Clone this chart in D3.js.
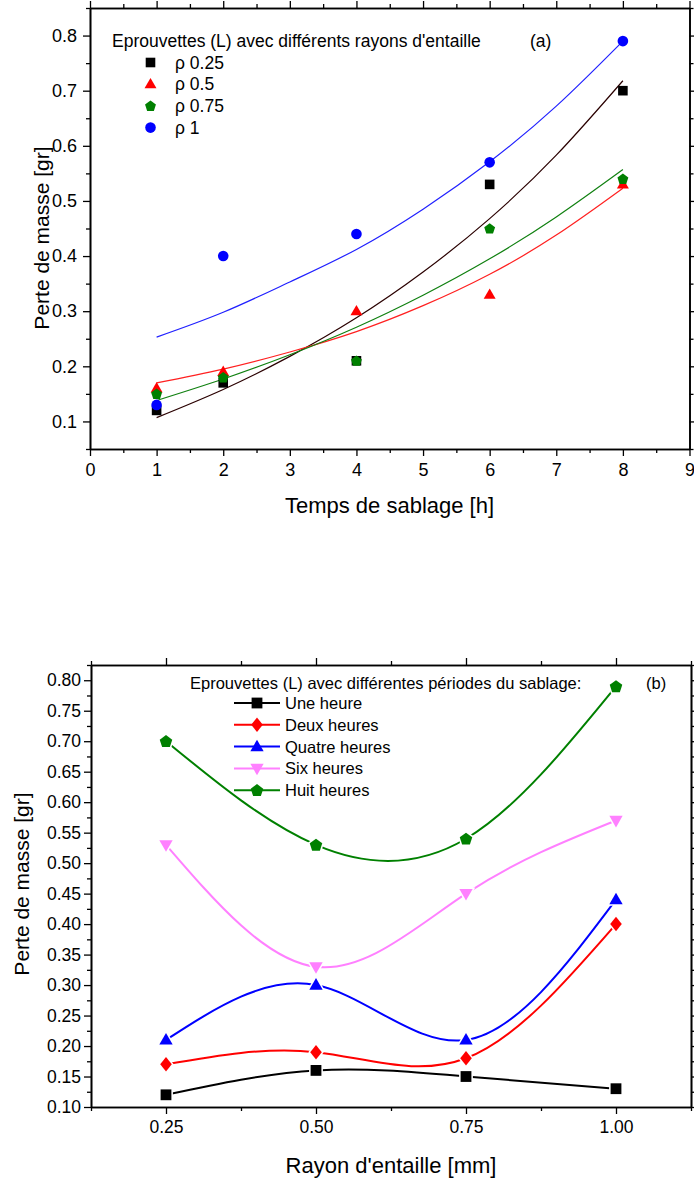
<!DOCTYPE html>
<html><head><meta charset="utf-8">
<script src="https://cdn.jsdelivr.net/npm/d3@7"></script>
<style>
body{margin:0;background:#fff}
svg{display:block;font-family:"Liberation Sans",Arial,sans-serif}
</style>
</head><body>
<svg id="c" width="694" height="1180"></svg>
<script>
// ---------- Chart (a) data ----------
const hours = [1, 2, 4, 6, 8];
const rho025 = [0.12, 0.17, 0.21, 0.53, 0.70];
const rho05  = [0.16, 0.19, 0.30, 0.33, 0.53];
const rho075 = [0.15, 0.18, 0.21, 0.45, 0.54];
const rho1   = [0.13, 0.40, 0.44, 0.57, 0.79];
// fitted curves
const fitHours = [1, 2, 3, 4, 5, 6, 7, 8];
const fit025 = [0.107, 0.158, 0.218, 0.288, 0.371, 0.468, 0.583, 0.718];
const fit05  = [0.170, 0.195, 0.226, 0.263, 0.310, 0.367, 0.438, 0.523];
const fit075 = [0.138, 0.177, 0.221, 0.271, 0.329, 0.395, 0.471, 0.557];
const fit1   = [0.253, 0.298, 0.353, 0.412, 0.485, 0.571, 0.672, 0.790];
const aSeriesNames = ["\u03C1 0.25", "\u03C1 0.5", "\u03C1 0.75", "\u03C1 1"];
const aXTicks = [0, 1, 2, 3, 4, 5, 6, 7, 8, 9];
const aYTicks = [0.1, 0.2, 0.3, 0.4, 0.5, 0.6, 0.7, 0.8];

// ---------- Chart (b) data ----------
const rayons = [0.25, 0.50, 0.75, 1.00];
const uneHeure    = [0.12, 0.16, 0.15, 0.13];
const deuxHeures  = [0.17, 0.19, 0.18, 0.40];
const quatreHeures= [0.21, 0.30, 0.21, 0.44];
const sixHeures   = [0.53, 0.33, 0.45, 0.57];
const huitHeures  = [0.70, 0.53, 0.54, 0.79];
const bSeriesNames = ["Une heure", "Deux heures", "Quatre heures", "Six heures", "Huit heures"];
const bXTicks = [0.25, 0.50, 0.75, 1.00];
const bYTicks = [0.10, 0.15, 0.20, 0.25, 0.30, 0.35, 0.40, 0.45, 0.50, 0.55, 0.60, 0.65, 0.70, 0.75, 0.80];

// ---------- helpers ----------
const svg = d3.select("#c");
function markerPath(type, r) {
  const p = d3.path();
  if (type === "square") { p.rect(-r, -r, 2 * r, 2 * r); }
  else if (type === "circle") { p.arc(0, 0, r, 0, 2 * Math.PI); }
  else if (type === "tri") { p.moveTo(0, -r * 1.2); p.lineTo(r * 1.15, r * 0.8); p.lineTo(-r * 1.15, r * 0.8); p.closePath(); }
  else if (type === "tridown") { p.moveTo(0, r * 1.2); p.lineTo(r * 1.15, -r * 0.8); p.lineTo(-r * 1.15, -r * 0.8); p.closePath(); }
  else if (type === "diamond") { p.moveTo(0, -r * 1.25); p.lineTo(r, 0); p.lineTo(0, r * 1.25); p.lineTo(-r, 0); p.closePath(); }
  else if (type === "pent") {
    for (let k = 0; k < 5; k++) {
      const a = -Math.PI / 2 + k * 2 * Math.PI / 5;
      const x = r * 1.1 * Math.cos(a), y = r * 1.1 * Math.sin(a) + r * 0.08;
      k === 0 ? p.moveTo(x, y) : p.lineTo(x, y);
    }
    p.closePath();
  }
  return p.toString();
}

function frame(g, x, y, xMaj, xMin, yMaj, yMin, xFmt, yFmt, fs, yPad) {
  const [x0, x1] = x.range(), [y1, y0] = y.range();
  const styleAxis = sel => {
    sel.select(".domain").attr("stroke", "#000").attr("stroke-width", 1.6);
    sel.selectAll(".tick line").attr("stroke", "#000").attr("stroke-width", 1.3);
    sel.selectAll(".tick text").attr("fill", "#000").style("font-size", fs + "px").style("font-family", '"Liberation Sans",Arial,sans-serif');
  };
  const minor = (axisFn, scale, vals, tr) => {
    g.append("g").attr("transform", tr)
      .call(axisFn(scale).tickValues(vals).tickSize(4).tickSizeOuter(0).tickFormat(""))
      .call(styleAxis);
  };
  minor(d3.axisBottom, x, xMin, `translate(0,${y1})`);
  minor(d3.axisTop, x, xMin, `translate(0,${y0})`);
  minor(d3.axisLeft, y, yMin, `translate(${x0},0)`);
  minor(d3.axisRight, y, yMin, `translate(${x1},0)`);
  g.append("g").attr("transform", `translate(0,${y1})`)
    .call(d3.axisBottom(x).tickValues(xMaj).tickSize(7).tickPadding(7).tickSizeOuter(0).tickFormat(xFmt)).call(styleAxis);
  g.append("g").attr("transform", `translate(0,${y0})`)
    .call(d3.axisTop(x).tickValues(xMaj).tickSize(7).tickSizeOuter(0).tickFormat("")).call(styleAxis);
  g.append("g").attr("transform", `translate(${x0},0)`)
    .call(d3.axisLeft(y).tickValues(yMaj).tickSize(7).tickPadding(yPad).tickSizeOuter(0).tickFormat(yFmt)).call(styleAxis);
  g.append("g").attr("transform", `translate(${x1},0)`)
    .call(d3.axisRight(y).tickValues(yMaj).tickSize(7).tickSizeOuter(0).tickFormat("")).call(styleAxis);
}

// ================= Chart (a) =================
{
  const g = svg.append("g");
  const x = d3.scaleLinear().domain([0, 9]).range([90, 689.5]);
  const y = d3.scaleLinear().domain([0.05, 0.85]).range([449, 8]);
  const xMin = d3.range(0.5, 9, 1);
  const yMin = d3.range(0, 9).map(i => 0.05 + i * 0.1);
  frame(g, x, y, aXTicks, xMin, aYTicks, yMin, d3.format("d"), d3.format(".1f"), 18, 6);

  const series = [
    { v: rho025, fit: fit025, color: "#000000", line: "#2a0000", m: "square", r: 4.8 },
    { v: rho05,  fit: fit05,  color: "#ff0000", line: "#ff2020", m: "tri",    r: 5.2 },
    { v: rho075, fit: fit075, color: "#008000", line: "#108010", m: "pent",   r: 5.2 },
    { v: rho1,   fit: fit1,   color: "#0000ff", line: "#2020ff", m: "circle", r: 5.3 }
  ];
  const line = d3.line().x((d, i) => x(fitHours[i])).y(d => y(d)).curve(d3.curveNatural);
  series.forEach(s => {
    g.append("path").attr("d", line(s.fit)).attr("fill", "none").attr("stroke", s.line).attr("stroke-width", 1.2);
  });
  series.forEach(s => {
    g.selectAll(null).data(s.v).enter().append("path")
      .attr("d", markerPath(s.m, s.r))
      .attr("transform", (d, i) => `translate(${x(hours[i])},${y(d)})`)
      .attr("fill", s.color);
  });

  // legend
  g.append("text").attr("x", 112).attr("y", 47).style("font-size", "17.5px").text("Eprouvettes (L) avec différents rayons d'entaille");
  g.append("text").attr("x", 530).attr("y", 47).style("font-size", "17.5px").text("(a)");
  series.forEach((s, i) => {
    const cy = 62.5 + i * 21.7;
    g.append("path").attr("d", markerPath(s.m, s.r)).attr("transform", `translate(150.5,${cy})`).attr("fill", s.color);
    g.append("text").attr("x", 175).attr("y", cy + 6).style("font-size", "17.5px").text(aSeriesNames[i]);
  });

  g.append("text").attr("x", 389.5).attr("y", 513).attr("text-anchor", "middle").style("font-size", "22px").text("Temps de sablage [h]");
  g.append("text").attr("transform", "translate(49,238) rotate(-90)").attr("text-anchor", "middle").style("font-size", "21px").text("Perte de masse [gr]");
}

// ================= Chart (b) =================
{
  const g = svg.append("g");
  const x = d3.scaleLinear().domain([0.125, 1.125]).range([91, 691]);
  const y = d3.scaleLinear().domain([0.10, 0.825]).range([1107, 665]);
  const xMin = [0.125, 0.375, 0.625, 0.875, 1.125];
  const yMin = d3.range(0, 29).map(i => Math.round((0.125 + i * 0.05) * 1000) / 1000).filter(v => v <= 0.825);
  frame(g, x, y, bXTicks, xMin, bYTicks, yMin, d3.format(".2f"), d3.format(".2f"), 17.5, 3);

  const series = [
    { v: uneHeure,     color: "#000000", m: "square",  r: 5.4 },
    { v: deuxHeures,   color: "#ff0000", m: "diamond", r: 5.8 },
    { v: quatreHeures, color: "#0000ff", m: "tri",     r: 5.8 },
    { v: sixHeures,    color: "#ff80ff", m: "tridown", r: 5.8 },
    { v: huitHeures,   color: "#008000", m: "pent",    r: 6.0 }
  ];
  const line = d3.line().x((d, i) => x(rayons[i])).y(d => y(d)).curve(d3.curveNatural);
  series.forEach(s => {
    g.append("path").attr("d", line(s.v)).attr("fill", "none").attr("stroke", s.color).attr("stroke-width", 2);
  });
  series.forEach(s => {
    g.selectAll(null).data(s.v).enter().append("path")
      .attr("d", markerPath(s.m, s.r))
      .attr("transform", (d, i) => `translate(${x(rayons[i])},${y(d)})`)
      .attr("fill", s.color).attr("stroke", "#fff").attr("stroke-width", 3).attr("paint-order", "stroke");
  });

  // legend
  g.append("text").attr("x", 190).attr("y", 689).style("font-size", "16.5px").text("Eprouvettes (L) avec différentes périodes du sablage:");
  g.append("text").attr("x", 646).attr("y", 689).style("font-size", "16.5px").text("(b)");
  series.forEach((s, i) => {
    const cy = 703 + i * 21.8;
    g.append("line").attr("x1", 234).attr("x2", 280).attr("y1", cy).attr("y2", cy).attr("stroke", s.color).attr("stroke-width", 2);
    g.append("path").attr("d", markerPath(s.m, s.r)).attr("transform", `translate(257,${cy})`).attr("fill", s.color);
    g.append("text").attr("x", 285).attr("y", cy + 6).style("font-size", "16.5px").text(bSeriesNames[i]);
  });

  g.append("text").attr("x", 391).attr("y", 1173).attr("text-anchor", "middle").style("font-size", "22px").text("Rayon d'entaille [mm]");
  g.append("text").attr("transform", "translate(29,884) rotate(-90)").attr("text-anchor", "middle").style("font-size", "21px").text("Perte de masse [gr]");
}
</script>
</body></html>
